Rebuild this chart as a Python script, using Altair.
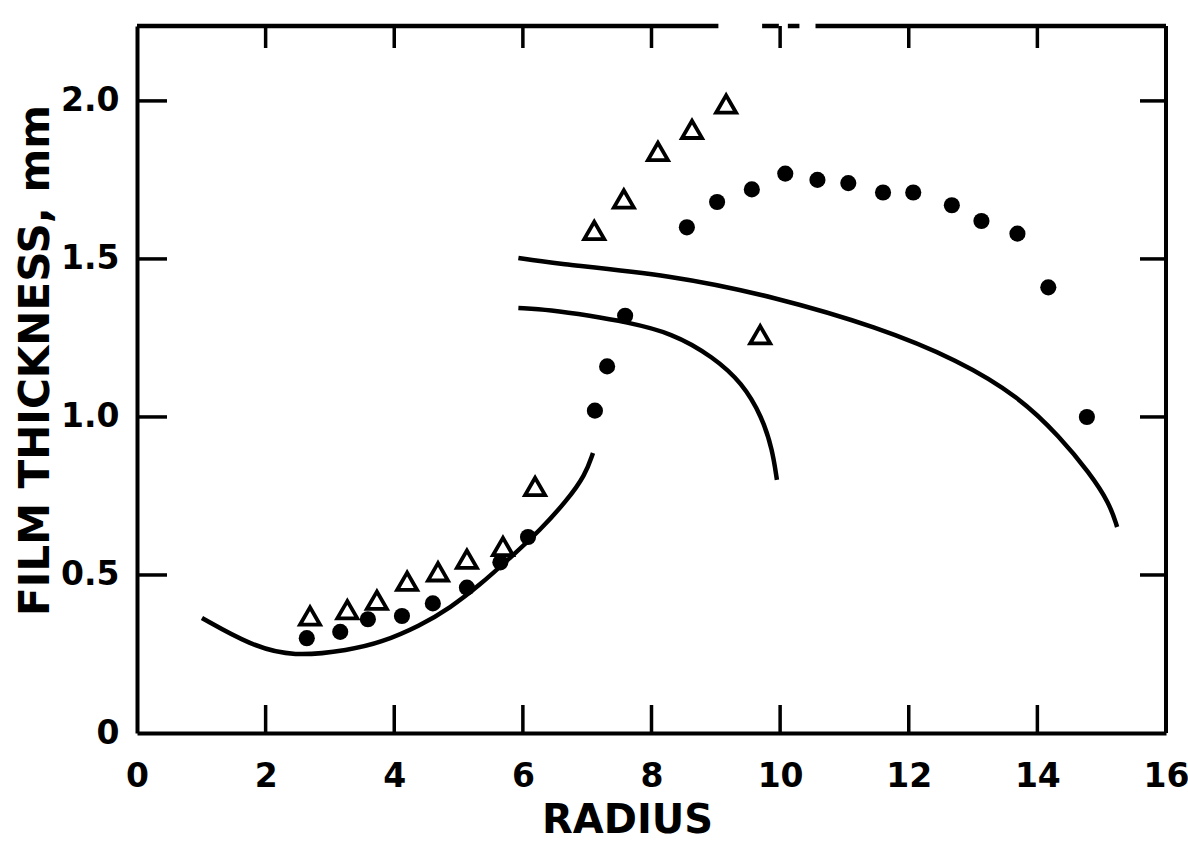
import altair as alt
import pandas as pd

# ---- data ----
dots_r = [2.64, 3.16, 3.59, 4.12, 4.60, 5.13, 5.65, 6.08,
          7.12, 7.31, 7.59, 8.55, 9.02, 9.56, 10.08, 10.58, 11.06, 11.60,
          12.07, 12.67, 13.13, 13.69, 14.17, 14.77]
dots_h = [0.30, 0.32, 0.36, 0.37, 0.41, 0.46, 0.54, 0.62,
          1.02, 1.16, 1.32, 1.60, 1.68, 1.72, 1.77, 1.75, 1.74, 1.71,
          1.71, 1.67, 1.62, 1.58, 1.41, 1.00]

tri_r = [2.69, 3.27, 3.73, 4.20, 4.68, 5.13, 5.69, 6.19,
         7.11, 7.57, 8.10, 8.63, 9.16, 9.69]
tri_h = [0.37, 0.39, 0.42, 0.48, 0.51, 0.55, 0.59, 0.78,
         1.59, 1.69, 1.84, 1.91, 1.99, 1.26]

c1_r = [1.01, 1.76, 2.43, 3.31, 3.78, 4.40, 4.87, 5.33, 5.80, 6.27, 6.69, 6.97, 7.09]
c1_h = [0.364, 0.278, 0.240, 0.263, 0.285, 0.339, 0.396, 0.468, 0.554, 0.642, 0.737, 0.816, 0.886]

c2_r = [5.93, 6.42, 7.05, 7.59, 8.32, 8.96, 9.41, 9.72, 9.88, 9.95]
c2_h = [1.345, 1.339, 1.320, 1.301, 1.266, 1.190, 1.108, 1.000, 0.896, 0.801]

c3_r = [5.93, 6.42, 8.32, 9.91, 11.51, 12.77, 13.72, 14.35, 14.81, 15.12, 15.24]
c3_h = [1.503, 1.487, 1.449, 1.380, 1.285, 1.180, 1.063, 0.937, 0.823, 0.728, 0.652]

x_ticks = [0, 2, 4, 6, 8, 10, 12, 14, 16]
y_ticks = [0, 0.5, 1.0, 1.5, 2.0]
inner_x_ticks = [2, 4, 6, 8, 10, 12, 14]
inner_y_ticks = [0.5, 1.0, 1.5, 2.0]

X_MAX = 16
Y_MAX = 2.237
W, H = 1029, 707
FONT = "DejaVu Sans"

dots = pd.DataFrame({"r": dots_r, "h": dots_h})
tris = pd.DataFrame({"r": tri_r, "h": tri_h})
curves = pd.concat([
    pd.DataFrame({"r": c1_r, "h": c1_h, "c": "a"}),
    pd.DataFrame({"r": c2_r, "h": c2_h, "c": "b"}),
    pd.DataFrame({"r": c3_r, "h": c3_h, "c": "c"}),
], ignore_index=True)
curves["o"] = range(len(curves))

xs = alt.Scale(domain=[0, X_MAX], nice=False, zero=False)
ys = alt.Scale(domain=[0, Y_MAX], nice=False, zero=False)

x_axis = alt.Axis(values=x_ticks, format="d", grid=False, ticks=False,
                  domainWidth=4, domainColor="black",
                  labelFont=FONT, labelFontSize=33, labelFontWeight="bold",
                  labelColor="black", labelPadding=43, labelBaseline="middle",
                  labelFlush=False,
                  title="RADIUS", titleFont=FONT, titleFontSize=40,
                  titleFontWeight="bold", titleColor="black",
                  titleX=490, titleY=87, titleBaseline="middle", titleAlign="center")
y_axis = alt.Axis(values=y_ticks, grid=False, ticks=False,
                  domainWidth=4, domainColor="black",
                  labelExpr="datum.value == 0 ? '0' : format(datum.value, '.1f')",
                  labelFont=FONT, labelFontSize=33, labelFontWeight="bold",
                  labelColor="black", labelPadding=18, labelFlush=False,
                  title="FILM THICKNESS, mm", titleFont=FONT, titleFontSize=42,
                  titleFontWeight="bold", titleColor="black", titleAngle=-90,
                  titleX=-102, titleY=334, titleBaseline="middle", titleAlign="center")

line_layer = alt.Chart(curves).mark_line(color="black", strokeWidth=4.5,
                                        interpolate="basis").encode(
    x=alt.X("r:Q", scale=xs, axis=x_axis),
    y=alt.Y("h:Q", scale=ys, axis=y_axis),
    detail="c:N",
    order="o:Q",
)

dot_layer = alt.Chart(dots).mark_point(shape="circle", filled=True, color="black",
                                       size=260, opacity=1).encode(
    x=alt.X("r:Q", scale=xs), y=alt.Y("h:Q", scale=ys))

tri_layer = alt.Chart(tris).mark_point(shape="triangle-up", filled=False,
                                       color="black", strokeWidth=3.8,
                                       size=400, opacity=1).encode(
    x=alt.X("r:Q", scale=xs), y=alt.Y("h:Q", scale=ys))

tx = pd.DataFrame({"t": inner_x_ticks})
ty = pd.DataFrame({"t": inner_y_ticks})

bottom_ticks = alt.Chart(tx).mark_rule(color="black", strokeWidth=3.5).encode(
    x=alt.X("t:Q", scale=xs), y=alt.value(H), y2=alt.value(H - 28))
top_ticks = alt.Chart(tx).mark_rule(color="black", strokeWidth=3.5).encode(
    x=alt.X("t:Q", scale=xs), y=alt.value(0), y2=alt.value(22))
left_ticks = alt.Chart(ty).mark_rule(color="black", strokeWidth=3.5).encode(
    y=alt.Y("t:Q", scale=ys), x=alt.value(0), x2=alt.value(30))
right_ticks = alt.Chart(ty).mark_rule(color="black", strokeWidth=3.5).encode(
    y=alt.Y("t:Q", scale=ys), x=alt.value(W - 26), x2=alt.value(W))

frame_right = alt.Chart(pd.DataFrame({"v": [X_MAX]})).mark_rule(
    color="black", strokeWidth=4).encode(
    x=alt.X("v:Q", scale=xs), y=alt.value(0), y2=alt.value(H))
top_seg = pd.DataFrame({"a": [0, 10.55], "b": [9.04, X_MAX]})
frame_top = alt.Chart(top_seg).mark_rule(color="black", strokeWidth=4.5).encode(
    x=alt.X("a:Q", scale=xs), x2="b:Q", y=alt.value(0))
dash_seg = pd.DataFrame({"a": [9.72, 10.12], "b": [9.98, 10.3]})
frame_dash = alt.Chart(dash_seg).mark_rule(color="black", strokeWidth=4.5).encode(
    x=alt.X("a:Q", scale=xs), x2="b:Q", y=alt.value(0))

chart = alt.layer(
    line_layer, dot_layer, tri_layer,
    bottom_ticks, top_ticks, left_ticks, right_ticks,
    frame_right, frame_top, frame_dash,
).properties(
    width=W, height=H,
    autosize=alt.AutoSizeParams(type="none"),
    padding={"left": 137, "top": 26, "right": 1188 - 137 - W, "bottom": 844 - 26 - H},
    background="white",
).configure_view(stroke=None)

chart.save("out.html", embed_options={"renderer": "svg", "actions": False})
